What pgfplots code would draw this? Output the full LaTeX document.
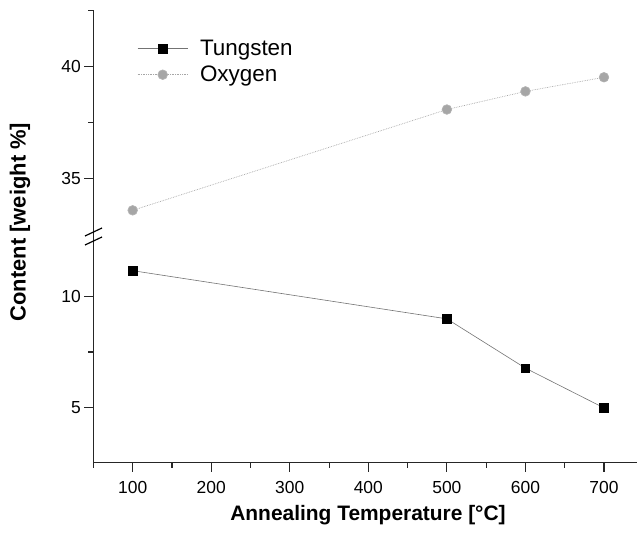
\documentclass[border=0pt]{standalone}
\usepackage{pgfplots}
\pgfplotsset{compat=1.18}
\usepackage{fontspec}
\setmainfont{Liberation Sans}
\begin{document}
\begin{tikzpicture}
\useasboundingbox (0bp,0bp) rectangle (637bp,534bp);
\pgfplotsset{
  brk/.style={
    scale only axis,
    x=0.7855bp,
    xmin=50, xmax=742,
    axis y line*=left,
    axis line style={line width=1.3bp, color=black!85},
    tick align=outside,
    major tick length=9bp,
    minor tick length=5bp,
    tick style={line width=1.1bp, color=black!85},
    ticklabel style={font=\fontsize{17.5}{20}\selectfont},
    /pgf/number format/assume math mode=true,
    clip=false,
  },
}
% lower axis
\begin{axis}[brk,
  anchor=south west, at={(93.4bp,71.5bp)},
  y=22.1bp, ymin=2.5, ymax=12.5,
  axis x line*=bottom,
  xtick={100,200,...,700},
  minor xtick={50,150,...,650},
  ytick={5,10},
  minor ytick={7.5},
  xticklabel style={yshift=-6bp},
]
\addplot[color=black!55, line width=0.6bp, mark=square*, mark size=4.2bp,
  mark options={solid, fill=black, draw=black}]
  coordinates {(100,11.18) (500,9.0) (600,6.77) (700,4.97)};
\end{axis}
% upper axis
\begin{axis}[brk,
  anchor=south west, at={(93.4bp,299.7bp)},
  y=22.4bp, ymin=32.5, ymax=42.5,
  axis x line=none,
  ytick={35,40},
  minor ytick={37.5,42.5},
  legend style={at={(0.075,0.885)}, anchor=north west, draw=none, fill=none,
    font=\fontsize{22.5}{25}\selectfont, row sep=5bp,
    /tikz/every odd column/.append style={column sep=10bp}},
  legend cell align=left,
  legend image code/.code={
    \draw[mark repeat=2,mark phase=2,#1] plot coordinates {(0bp,0bp) (25bp,0bp) (50bp,0bp)};
  },
]
\addlegendimage{color=black!55, line width=0.6bp, mark=square*, mark size=4.2bp,
  mark options={solid, fill=black, draw=black}}
\addlegendentry{Tungsten}
\addplot[color=black!35, line width=0.7bp, densely dotted, mark=*, mark size=4.8bp,
  mark options={solid, fill=black!35, draw=black!30}]
  coordinates {(100,33.57) (500,38.07) (600,38.88) (700,39.51)};
\addlegendentry{Oxygen}
\end{axis}
% axis break
\draw[line width=1.3bp, black!85] (93.4bp,292bp) -- (93.4bp,300bp);
\draw[line width=1.2bp] (85bp,298bp) -- (102bp,306bp);
\draw[line width=1.2bp] (85bp,289bp) -- (102bp,297bp);
% axis labels
\node[font=\fontsize{21}{24}\selectfont\bfseries] at (368bp,19bp) {Annealing Temperature [°C]};
\node[font=\fontsize{22}{24}\selectfont\bfseries, rotate=90] at (20bp,312bp) {Content [weight \%]};
\end{tikzpicture}
\end{document}
